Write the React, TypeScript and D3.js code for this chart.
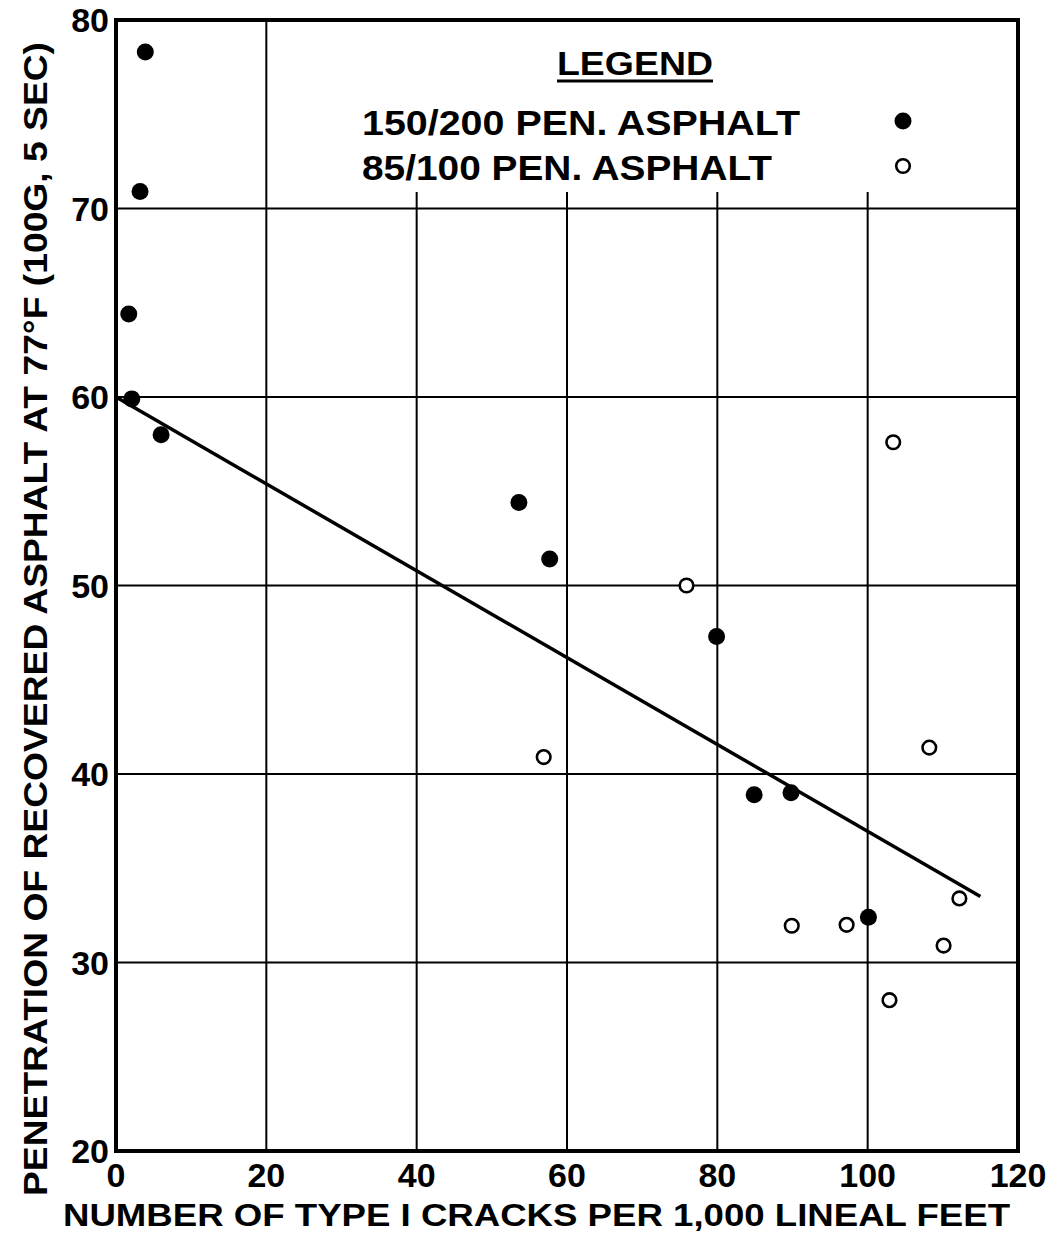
import React from "react";
import * as d3 from "d3";

const xTicks = [0, 20, 40, 60, 80, 100, 120];
const yTicks = [20, 30, 40, 50, 60, 70, 80];

// 150/200 pen. asphalt (filled)
const pen150X = [3.9, 3.2, 1.7, 2.1, 6.0, 53.6, 57.7, 79.9, 84.9, 89.8, 100.1];
const pen150Y = [78.3, 70.9, 64.4, 59.9, 58.0, 54.4, 51.4, 47.3, 38.9, 39.0, 32.4];

// 85/100 pen. asphalt (open)
const pen85X = [75.9, 56.9, 103.4, 108.2, 89.9, 97.2, 110.1, 112.2, 102.9];
const pen85Y = [50.0, 40.9, 57.6, 41.4, 31.95, 32.0, 30.9, 33.4, 28.0];

const fitLineX = [0, 115];
const fitLineY = [60, 33.5];

const xLabel = "NUMBER OF TYPE I CRACKS PER 1,000 LINEAL FEET";
const yLabel = "PENETRATION OF RECOVERED ASPHALT AT 77°F (100G, 5 SEC)";
const legendTitle = "LEGEND";
const legendItems = ["150/200 PEN. ASPHALT", "85/100 PEN. ASPHALT"];

export default function App() {
  const W = 1055, H = 1234;
  const L = 116, R = 1018, T = 20, B = 1151;
  const x = d3.scaleLinear().domain([0, 120]).range([L, R]);
  const y = d3.scaleLinear().domain([20, 80]).range([B, T]);
  const font = "'Liberation Sans', Arial, sans-serif";
  const line = d3.line<number>().x((_, i) => x(fitLineX[i])).y((d) => y(d));
  const legendBottom = 192;
  const legendLeft = 290;

  return (
    <svg width={W} height={H} style={{ position: "absolute", left: 0, top: 0, background: "#fff" }}>
      <rect x={0} y={0} width={W} height={H} fill="#fff" />
      {/* grid */}
      {xTicks.slice(1, -1).map((t) => (
        <line key={"gx" + t} x1={x(t)} x2={x(t)} y1={x(t) > legendLeft ? legendBottom : T} y2={B}
          stroke="#000" strokeWidth={2} />
      ))}
      {yTicks.slice(1, -1).map((t) => (
        <line key={"gy" + t} x1={L} x2={R} y1={y(t)} y2={y(t)} stroke="#000" strokeWidth={2} />
      ))}
      {/* frame */}
      <rect x={L} y={T} width={R - L} height={B - T} fill="none" stroke="#000" strokeWidth={4} />

      {/* fit line */}
      <path d={line(fitLineY) || ""} fill="none" stroke="#000" strokeWidth={3.5} />

      {/* points */}
      {pen150X.map((v, i) => (
        <circle key={"f" + i} cx={x(v)} cy={y(pen150Y[i])} r={8.5} fill="#000" />
      ))}
      {pen85X.map((v, i) => (
        <circle key={"o" + i} cx={x(v)} cy={y(pen85Y[i])} r={6.8} fill="#fff" stroke="#000" strokeWidth={2.6} />
      ))}

      {/* tick labels */}
      {yTicks.map((t) => (
        <text key={"ty" + t} x={L - 7} y={y(t) + 12} textAnchor="end" fontFamily={font}
          fontWeight="bold" fontSize={34}>{t}</text>
      ))}
      {xTicks.map((t) => (
        <text key={"tx" + t} x={x(t)} y={1187} textAnchor="middle" fontFamily={font}
          fontWeight="bold" fontSize={34}>{t}</text>
      ))}

      {/* axis labels */}
      <text x={63} y={1226} fontFamily={font} fontWeight="bold" fontSize={31}
        textLength={947} lengthAdjust="spacingAndGlyphs">{xLabel}</text>
      <text transform={`translate(47,1196) rotate(-90)`} x={0} y={0} fontFamily={font}
        fontWeight="bold" fontSize={33} textLength={1154} lengthAdjust="spacingAndGlyphs">{yLabel}</text>

      {/* legend */}
      <text x={557} y={75} fontFamily={font} fontWeight="bold" fontSize={34}
        textLength={156} lengthAdjust="spacingAndGlyphs">{legendTitle}</text>
      <line x1={557} x2={713} y1={81} y2={81} stroke="#000" strokeWidth={3} />
      <text x={362} y={135} fontFamily={font} fontWeight="bold" fontSize={35}
        textLength={438} lengthAdjust="spacingAndGlyphs">{legendItems[0]}</text>
      <text x={362} y={180} fontFamily={font} fontWeight="bold" fontSize={35}
        textLength={410} lengthAdjust="spacingAndGlyphs">{legendItems[1]}</text>
      <circle cx={903} cy={121} r={8.5} fill="#000" />
      <circle cx={903} cy={166} r={6.8} fill="#fff" stroke="#000" strokeWidth={2.6} />
    </svg>
  );
}
